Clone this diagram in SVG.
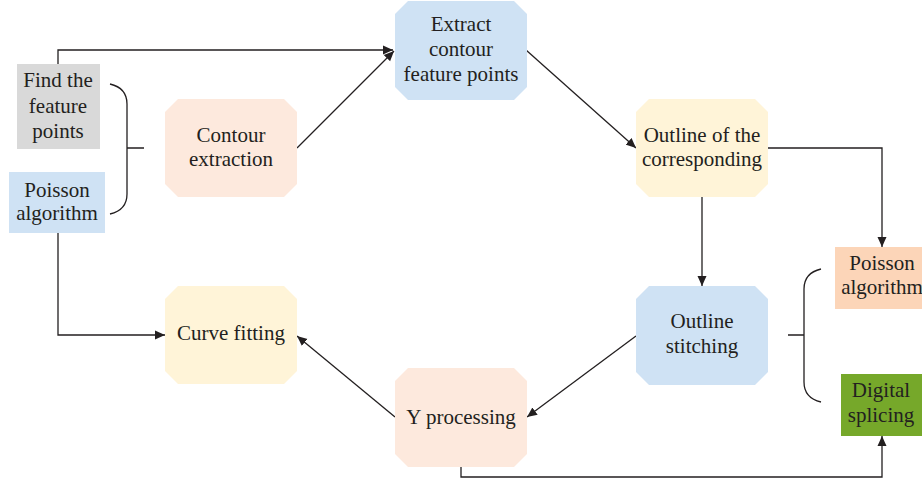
<svg xmlns="http://www.w3.org/2000/svg" width="922" height="481" viewBox="0 0 922 481">
<defs>
<marker id="ah" viewBox="0 0 10 10" refX="10" refY="5" markerWidth="10" markerHeight="10" markerUnits="userSpaceOnUse" orient="auto">
<path d="M0,0.5 L10,5 L0,9.5 Z" fill="#231f20"/>
</marker>
<style>
text{font-family:"Liberation Serif","Times New Roman",serif;font-size:21px;fill:#231f20;text-anchor:middle}
.c{fill:none;stroke:#231f20;stroke-width:1.3}
.a{marker-end:url(#ah)}
.peach{fill:#fde9dd}
.blue{fill:#cfe2f4}
.yellow{fill:#fff4d8}
</style>
</defs>
<rect width="922" height="481" fill="#ffffff"/>
<g id="connectors">
<polyline class="c a" points="58,64 58,50 393,50"/>
<line class="c a" x1="297" y1="148" x2="394" y2="51"/>
<line class="c a" x1="526" y1="50" x2="636" y2="148"/>
<polyline class="c a" points="768,148 882,148 882,247"/>
<line class="c a" x1="702" y1="197" x2="702" y2="286"/>
<line class="c a" x1="636" y1="336" x2="527" y2="417"/>
<line class="c a" x1="395" y1="417" x2="297" y2="336"/>
<polyline class="c a" points="58,233 58,335 165,335"/>
<polyline class="c a" points="461,467 461,477 882,477 882,436"/>
<path class="c" d="M110,84 Q127,88 127,104 V194 Q127,210 110,214 M127,148 H144"/>
<path class="c" d="M821,269 Q804,273 804,289 V382 Q804,398 821,402 M804,335 H788"/>
</g>
<g id="n-find">
<rect x="17" y="64" width="83" height="85" fill="#d9d9d9"/>
<text x="58" y="87">Find the</text><text x="58" y="113">feature</text><text x="58" y="138">points</text>
</g>
<g id="n-poisson-left">
<rect x="9" y="172" width="96" height="61" class="blue"/>
<text x="57" y="197">Poisson</text><text x="57" y="220">algorithm</text>
</g>
<g id="n-contour">
<path class="peach" d="M178,99 H284 L297,112 V184 L284,197 H178 L165,184 V112 Z"/>
<text x="231" y="142">Contour</text><text x="231" y="166">extraction</text>
</g>
<g id="n-extract">
<path class="blue" d="M408,1 H514 L527,14 V87 L514,100 H408 L395,87 V14 Z"/>
<text x="461" y="31">Extract</text><text x="461" y="56">contour</text><text x="461" y="81">feature points</text>
</g>
<g id="n-outline">
<path class="yellow" d="M649,99 H755 L768,112 V184 L755,197 H649 L636,184 V112 Z"/>
<text x="702" y="142">Outline of the</text><text x="702" y="166">corresponding</text>
</g>
<g id="n-stitching">
<path class="blue" d="M649,286 H755 L768,299 V372 L755,385 H649 L636,372 V299 Z"/>
<text x="702" y="328">Outline</text><text x="702" y="353">stitching</text>
</g>
<g id="n-curve">
<path class="yellow" d="M178,286 H284 L297,299 V371 L284,384 H178 L165,371 V299 Z"/>
<text x="231" y="340">Curve fitting</text>
</g>
<g id="n-y">
<path class="peach" d="M408,368 H514 L527,381 V454 L514,467 H408 L395,454 V381 Z"/>
<text x="461" y="424">Y processing</text>
</g>
<g id="n-poisson-right">
<rect x="835" y="247" width="90" height="62" fill="#fcd5b8"/>
<text x="882" y="270">Poisson</text><text x="882" y="294">algorithm</text>
</g>
<g id="n-digital">
<rect x="841" y="374" width="84" height="62" fill="#76a82a"/>
<text x="881" y="397">Digital</text><text x="881" y="422">splicing</text>
</g>
</svg>
